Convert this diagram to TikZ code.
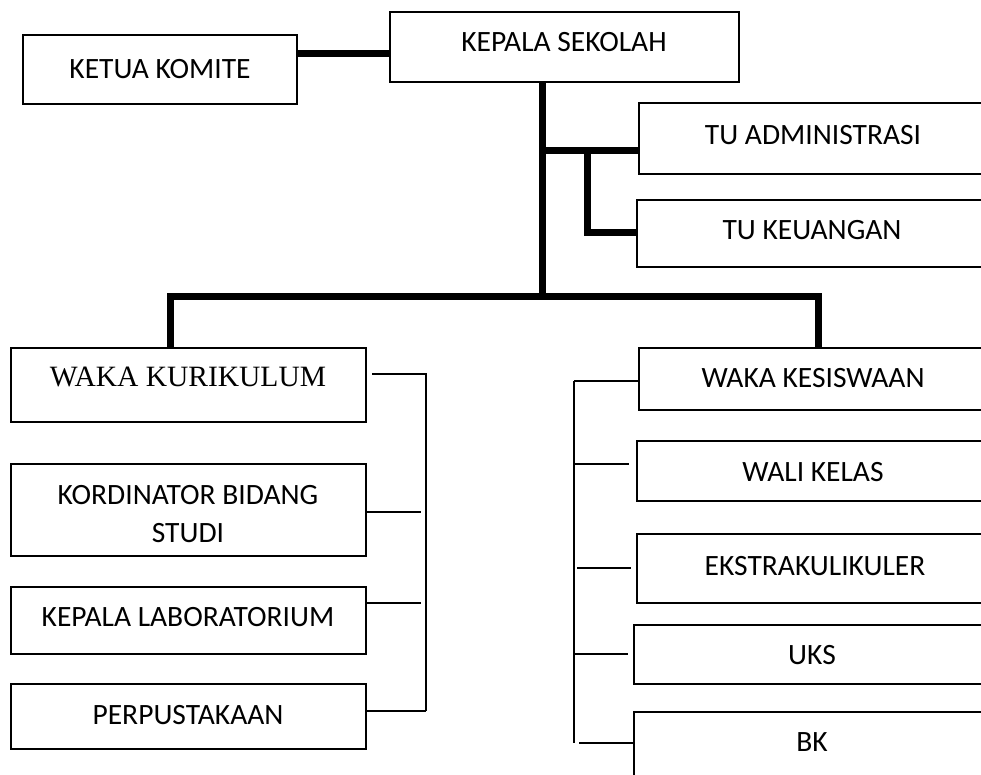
\documentclass[tikz,border=0pt]{standalone}
\usepackage{fontspec}
\setmainfont{Carlito}
\newfontfamily\tms{Liberation Serif}
\begin{document}
\begin{tikzpicture}[x=1pt,y=-1pt,
  box/.style={draw, line width=1.5pt, rectangle, inner sep=0pt, outer sep=0pt},
  txt/.style={inner sep=0pt, font=\fontsize{29.5}{38}\selectfont, align=center},
  thickline/.style={line width=7pt, line join=miter},
  thinline/.style={line width=1.6pt}]
\clip (0,0) rectangle (981,775);
\useasboundingbox (0,0) rectangle (981,775);
\newcommand\bx[5]{\node[box, minimum width={(#4-#2)*1pt}, minimum height={(#5-#3)*1pt}] (#1) at ({(#2+#4)/2},{(#3+#5)/2}) {};}
% boxes
\bx{komite}{23}{35}{297}{104}
\bx{kepala}{390}{12}{739}{82}
\bx{tuadm}{639}{103}{1000}{174}
\bx{tukeu}{637}{200}{1000}{267}
\bx{wkur}{11}{348}{366}{422}
\bx{kord}{11}{464}{366}{556}
\bx{lab}{11}{587}{366}{654}
\bx{perp}{11}{684}{366}{749}
\bx{wkes}{639}{348}{1000}{410}
\bx{wali}{637}{441}{1000}{501}
\bx{ekstra}{637}{534}{1000}{603}
\bx{uks}{634}{625}{1000}{684}
\bx{bk}{634}{712}{1000}{800}
% texts
\node[txt] (komiteT) at (160,69) {KETUA KOMITE};
\node[txt] (kepalaT) at (564,42) {KEPALA SEKOLAH};
\node[txt] (tuadmT) at (813,135) {TU ADMINISTRASI};
\node[txt] (tukeuT) at (812,230) {TU KEUANGAN};
\node[txt, font=\tms\fontsize{29.5}{38}\selectfont] (wkurT) at (188,377) {WAKA KURIKULUM};
\node[txt] (kordT) at (188,514) {KORDINATOR BIDANG\\STUDI};
\node[txt] (labT) at (188,617) {KEPALA LABORATORIUM};
\node[txt] (perpT) at (188,715) {PERPUSTAKAAN};
\node[txt] (wkesT) at (813,378) {WAKA KESISWAAN};
\node[txt] (waliT) at (813,472) {WALI KELAS};
\node[txt] (ekstraT) at (815,566) {EKSTRAKULIKULER};
\node[txt] (uksT) at (812,655) {UKS};
\node[txt] (bkT) at (812,742) {BK};
% coordinates
\coordinate (y54) at (0,54);
\coordinate (trunk) at (542,296);
\coordinate (tj) at (542,151);
\coordinate (tk) at (587,151);
\coordinate (tkb) at (587,233);
\coordinate (L) at (170,296);
\coordinate (R) at (818,296);
% thick connectors
\draw[thickline] (komite.east |- y54) -- (kepala.west |- y54);
\draw[thickline] (kepala.south -| trunk) -- (trunk);
\draw[thickline] (tj) -- (tuadm.west |- tj);
\draw[thickline] (tk) -- (tkb) -- (tukeu.west |- tkb);
\draw[thickline] (wkur.north -| L) -- (L) -- (R) -- (wkes.north -| R);
% left bracket
\coordinate (lb1) at (372,374);
\coordinate (lbv) at (426,374);
\coordinate (lbe) at (426,711);
\coordinate (lx) at (421,0);
\coordinate (k2) at (0,512);
\coordinate (k3) at (0,603);
\coordinate (k4) at (0,711);
\draw[thinline] (lb1) -- (lbv) -- (lbe);
\draw[thinline] (kord.east |- k2) -- (lx |- k2);
\draw[thinline] (lab.east |- k3) -- (lx |- k3);
\draw[thinline] (perp.east |- k4) -- (lbe);
% right bracket
\coordinate (rv1) at (574,381);
\coordinate (rv2) at (574,743);
\draw[thinline] (rv1) -- (rv2);
\draw[thinline] (rv1) -- (wkes.west |- rv1);
\coordinate (r2) at (574,464);
\coordinate (r2e) at (629,464);
\draw[thinline] (r2) -- (r2e);
\coordinate (r3) at (577,568);
\coordinate (r3e) at (631,568);
\draw[thinline] (r3) -- (r3e);
\coordinate (r4) at (574,654);
\coordinate (r4e) at (628,654);
\draw[thinline] (r4) -- (r4e);
\coordinate (r5) at (579,743);
\draw[thinline] (r5) -- (bk.west |- r5);
\end{tikzpicture}
\end{document}
